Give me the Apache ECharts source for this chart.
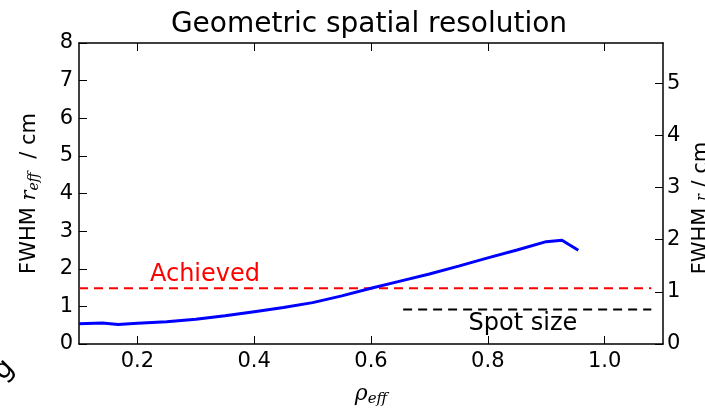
<!DOCTYPE html>
<html><head><meta charset="utf-8">
<script src="https://cdn.jsdelivr.net/npm/echarts@6/dist/echarts.min.js"></script>
<style>html,body{margin:0;padding:0;background:#fff}#c{width:705px;height:409px}</style>
</head><body><div id="c"></div>
<script>
var rhoEff = [0.1, 0.14, 0.167, 0.2, 0.25, 0.3, 0.35, 0.4, 0.45, 0.5, 0.55, 0.6, 0.65, 0.7, 0.75, 0.8, 0.85, 0.9, 0.927, 0.955];
var fwhm = [0.54, 0.56, 0.52, 0.55, 0.59, 0.66, 0.75, 0.86, 0.97, 1.10, 1.28, 1.48, 1.67, 1.86, 2.07, 2.29, 2.50, 2.72, 2.76, 2.49];
var achievedX = [0.1, 1.08];
var achievedY = 1.48;
var spotX = [0.655, 1.08];
var spotY = 0.92;
var xTicks = [0.2, 0.4, 0.6, 0.8, 1.0];
var rightTicks = [0, 1, 2, 3, 4, 5];
var titleText = 'Geometric spatial resolution';

var FONT = 'DejaVu Sans';
var chart = echarts.init(document.getElementById('c'), null, {renderer: 'canvas'});
function pairs(xs, ys) { return xs.map(function (x, i) { return [x, ys[i]]; }); }
var option = {
  animation: false,
  backgroundColor: '#fff',
  grid: {left: 79, right: 42, top: 43, bottom: 65, containLabel: false},
  xAxis: [{
    type: 'value', min: 0.1, max: 1.1, position: 'bottom',
    axisLine: {show: true, onZero: false, lineStyle: {color: '#000', width: 1.5}},
    axisTick: {show: true, inside: true, length: 8, customValues: xTicks, lineStyle: {color: '#000', width: 1}},
    axisLabel: {show: true, customValues: xTicks, margin: 7, color: '#000', fontFamily: FONT, fontSize: 21,
      formatter: function (v) { return v.toFixed(1); }},
    splitLine: {show: false}
  }, {
    type: 'value', min: 0.1, max: 1.1, position: 'top',
    axisLine: {show: true, onZero: false, lineStyle: {color: '#000', width: 1.5}},
    axisTick: {show: true, inside: true, length: 8, customValues: xTicks, lineStyle: {color: '#000', width: 1}},
    axisLabel: {show: false},
    splitLine: {show: false}
  }],
  yAxis: [{
    type: 'value', min: 0, max: 8, interval: 1, position: 'left',
    axisLine: {show: true, onZero: false, lineStyle: {color: '#000', width: 1.5}},
    axisTick: {show: true, inside: true, length: 8, lineStyle: {color: '#000', width: 1}},
    axisLabel: {show: true, margin: 6, color: '#000', fontFamily: FONT, fontSize: 21},
    splitLine: {show: false}
  }, {
    type: 'value', min: 0, max: 5.77, position: 'right',
    axisLine: {show: true, onZero: false, lineStyle: {color: '#000', width: 1.5}},
    axisTick: {show: true, inside: true, length: 8, customValues: rightTicks, lineStyle: {color: '#000', width: 1}},
    axisLabel: {show: true, customValues: rightTicks, margin: 4, color: '#000', fontFamily: FONT, fontSize: 21},
    splitLine: {show: false}
  }],
  series: [{
    type: 'line', xAxisIndex: 0, yAxisIndex: 0, data: pairs(rhoEff, fwhm),
    showSymbol: false, symbol: 'none', lineStyle: {color: '#0000ff', width: 3}, z: 5
  }, {
    type: 'line', xAxisIndex: 0, yAxisIndex: 0, data: pairs(achievedX, [achievedY, achievedY]),
    showSymbol: false, symbol: 'none', lineStyle: {color: '#ff0000', width: 2, type: [9, 6]}, z: 4
  }, {
    type: 'line', xAxisIndex: 0, yAxisIndex: 0, data: pairs(spotX, [spotY, spotY]),
    showSymbol: false, symbol: 'none', lineStyle: {color: '#000000', width: 2, type: [9, 6]}, z: 4
  }]
};
chart.setOption(option);

var pA = chart.convertToPixel({xAxisIndex: 0, yAxisIndex: 0}, [0.2215, 1.62]);
var pS = chart.convertToPixel({xAxisIndex: 0, yAxisIndex: 0}, [0.767, 0.32]);
var gridTop = chart.convertToPixel({yAxisIndex: 0}, 8);
var gridBot = chart.convertToPixel({yAxisIndex: 0}, 0);
var midY = (gridTop + gridBot) / 2;
var xMid = chart.convertToPixel({xAxisIndex: 0}, 0.6);

chart.setOption({
  graphic: [
    {type: 'text', x: 369, y: 25, style: {text: titleText, fontFamily: FONT, fontSize: 28, fill: '#000', align: 'center', verticalAlign: 'middle'}},
    {type: 'text', x: pA[0], y: pA[1] - 8, style: {text: 'Achieved', fontFamily: FONT, fontSize: 24, fill: '#ff0000', align: 'left', verticalAlign: 'middle'}},
    {type: 'text', x: pS[0], y: pS[1] - 8, style: {text: 'Spot size', fontFamily: FONT, fontSize: 24, fill: '#000', align: 'left', verticalAlign: 'middle'}},
    {type: 'text', x: 30, y: midY, rotation: Math.PI / 2, style: {
      text: '{a|FWHM }{r|r}{s|eff}{a|  / cm}', align: 'center', verticalAlign: 'middle',
      rich: {
        a: {fontFamily: FONT, fontSize: 21, fill: '#000'},
        r: {fontFamily: 'DejaVu Serif', fontStyle: 'italic', fontSize: 21, fill: '#000'},
        s: {fontFamily: 'DejaVu Serif', fontStyle: 'italic', fontSize: 14, fill: '#000', padding: [9, 0, 0, 0]}
      }}},
    {type: 'text', x: 702, y: 208, rotation: Math.PI / 2, style: {
      text: '{a|FWHM }{r|r}{a| / cm}', align: 'center', verticalAlign: 'middle',
      rich: {
        a: {fontFamily: FONT, fontSize: 21, fill: '#000'},
        r: {fontFamily: 'DejaVu Serif', fontStyle: 'italic', fontSize: 14, fill: '#000'}
      }}},
    {type: 'text', x: xMid, y: 394, style: {
      text: '{r|ρ}{s|eff}', align: 'center', verticalAlign: 'middle',
      rich: {
        r: {fontFamily: 'DejaVu Serif', fontStyle: 'italic', fontSize: 22, fill: '#000'},
        s: {fontFamily: 'DejaVu Serif', fontStyle: 'italic', fontSize: 15, fill: '#000', padding: [10, 0, 0, 0]}
      }}},
    {type: 'text', x: 4, y: 370, rotation: Math.PI / 4, style: {text: 'g', fontFamily: FONT, fontSize: 28, fill: '#000', align: 'center', verticalAlign: 'middle'}}
  ]
});
</script></body></html>
